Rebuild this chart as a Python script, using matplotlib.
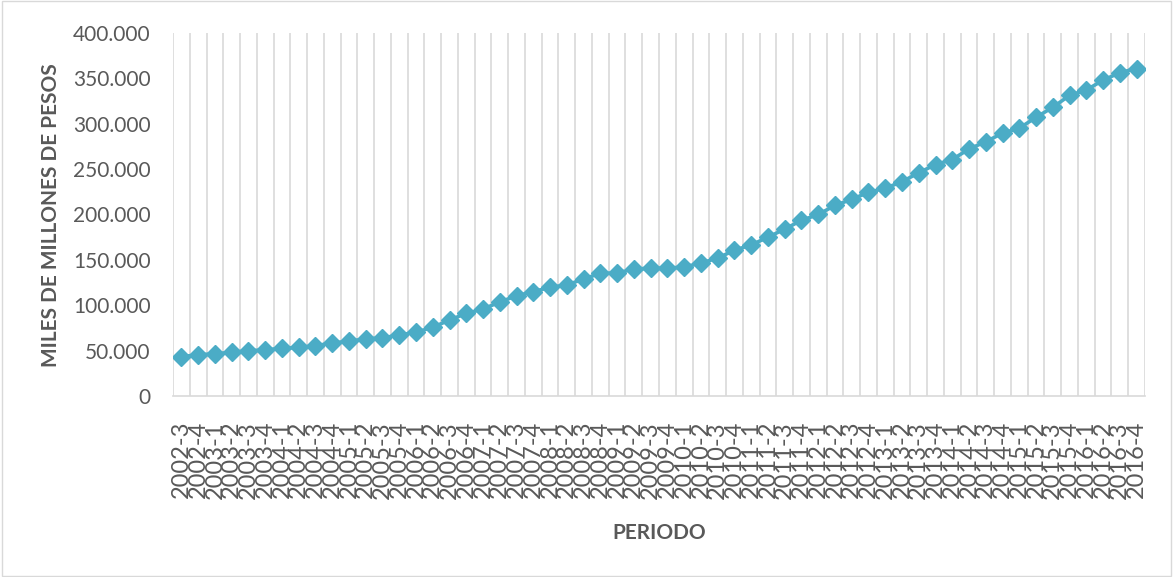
import matplotlib
matplotlib.use("Agg")
import matplotlib.pyplot as plt
from matplotlib.ticker import FuncFormatter, FixedLocator
from matplotlib.patches import Rectangle

# quarterly series, 2002-3 .. 2016-4 (miles de millones de pesos)
periodos = ["2002-3", "2002-4"] + [f"{y}-{q}" for y in range(2003, 2017) for q in range(1, 5)]
valores = [
    43300, 45500, 46500, 48100, 49900, 50800, 52500, 53500, 55400, 58400,
    60300, 63000, 64000, 67200, 70200, 75700, 83700, 91000, 95900, 103500,
    110500, 114900, 119800, 122300, 128900, 135200, 135500, 139900, 140800, 140700,
    142300, 146400, 152000, 160600, 166500, 174900, 184000, 193500, 200000, 210000,
    216700, 224400, 229000, 236100, 246000, 255000, 260600, 272200, 280200, 289600,
    295100, 307100, 318100, 331300, 337200, 348000, 356300, 360800,
]
y_ticks = [0, 50000, 100000, 150000, 200000, 250000, 300000, 350000, 400000]

plt.rcParams['font.family'] = ['Lato', 'DejaVu Sans']
gris = "#595959"
linea = "#4BACC6"

fig = plt.figure(figsize=(11.73, 5.77), dpi=100)
ax = fig.add_axes([173 / 1173, 1 - 396 / 577, (1145 - 173) / 1173, (396 - 33) / 577])

x = list(range(len(periodos)))
ax.plot(x, valores, color=linea, lw=2.6, marker="D", ms=9.4, zorder=3)

ax.set_xlim(-0.5, len(periodos) - 0.5)
ax.set_ylim(0, 400000)
ax.set_yticks(y_ticks)
ax.yaxis.set_major_formatter(FuncFormatter(lambda v, p: f"{int(v):,}".replace(",", ".")))

ax.set_xticks(x)
ax.set_xticklabels(periodos, rotation=90)
ax.xaxis.set_minor_locator(FixedLocator([i - 0.5 for i in range(len(periodos) + 1)]))
ax.grid(which="minor", axis="x", color="#d9d9d9", lw=1.2)
ax.tick_params(axis="x", which="both", length=0, pad=18, labelsize=17, colors=gris)
ax.tick_params(axis="y", length=0, pad=16, labelsize=15, colors=gris)

for s in ["top", "right", "left"]:
    ax.spines[s].set_visible(False)
ax.spines["bottom"].set_color("#d9d9d9")
ax.spines["bottom"].set_linewidth(1.2)

fig.text(659.5 / 1173, 1 - 533 / 577, "PERIODO", ha="center", va="center",
         fontsize=15, fontweight="bold", color=gris)
fig.text(51.5 / 1173, 1 - 215 / 577, "MILES DE MILLONES DE PESOS", ha="center", va="center",
         rotation=90, fontsize=15, fontweight="bold", color=gris)

fig.patches.append(Rectangle((0.002, 0.002), 0.996, 0.996, transform=fig.transFigure,
                             fill=False, edgecolor="#d9d9d9", lw=1))

fig.savefig("out.png", dpi=100)
